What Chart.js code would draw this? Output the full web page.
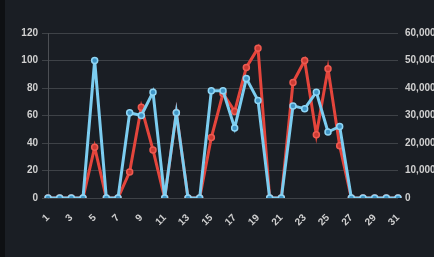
<!DOCTYPE html>
<html>
<head>
<meta charset="utf-8">
<script src="https://cdn.jsdelivr.net/npm/chart.js@4"></script>
<style>
html, body { margin: 0; padding: 0; background: #1a1e24; overflow: hidden; }
body { width: 434px; height: 257px; box-sizing: border-box; border-left: 5px solid #0e1013; }
#wrap { position: absolute; left: 0; top: 0; width: 446px; height: 257px; }
</style>
</head>
<body>
<div id="wrap"><canvas id="chart"></canvas></div>
<script>
const days = ['1','2','3','4','5','6','7','8','9','10','11','12','13','14','15','16','17','18','19','20','21','22','23','24','25','26','27','28','29','30','31'];
const blueVals = [0,0,0,0,100,0,0,62,60,77,0,62,0,0,78,78,51,87,71,0,0,67,65,77,48,52,0,0,0,0,0];
const redVals = [0,0,0,0,18500,0,0,9500,33000,17500,0,31000,0,0,22000,38000,31500,47500,54500,0,0,42000,50000,23000,47000,19000,0,0,0,0,0];
const leftTicks = [0,20,40,60,80,100,120];
const rightTicks = [0,10000,20000,30000,40000,50000,60000];

const tickFont = { family: 'Liberation Sans, Arial, sans-serif', size: 10, weight: 'bold' };

new Chart(document.getElementById('chart').getContext('2d'), {
type: 'line',
data: {
labels: days,
datasets: [{
label: 'A',
data: blueVals,
yAxisID: 'y',
borderColor: '#7ccdf0',
backgroundColor: '#3f94c4',
pointBackgroundColor: '#3f94c4',
pointBorderColor: '#8fd6f5',
borderWidth: 3,
pointRadius: 3,
pointBorderWidth: 1.5,
tension: 0
}, {
label: 'B',
data: redVals,
yAxisID: 'y1',
borderColor: '#e4453c',
backgroundColor: '#c93a33',
pointBackgroundColor: '#c93a33',
pointBorderColor: '#ee5a50',
borderWidth: 3,
pointRadius: 3,
pointBorderWidth: 1.5,
tension: 0
}]
},
options: {
responsive: true,
maintainAspectRatio: false,
animation: false,
layout: { padding: { top: 33, left: 0, right: 0, bottom: 0 } },
plugins: { legend: { display: false }, tooltip: { enabled: false } },
scales: {
x: {
grid: { display: false },
border: { display: false },
afterFit: s => { s.height = 59; },
ticks: {
color: '#d0d0d0',
font: tickFont,
minRotation: 45,
maxRotation: 45,
padding: 6,
autoSkip: false,
callback: function(v, i) { return i % 2 === 0 ? days[i] : ''; }
}
},
y: {
position: 'left',
min: 0,
max: 120,
afterFit: s => { s.width = 48; },
afterBuildTicks: s => { s.ticks = leftTicks.map(v => ({ value: v })); },
grid: { color: 'rgba(255,255,255,0.16)', tickLength: 6 },
border: { color: 'rgba(255,255,255,0.22)' },
ticks: { color: '#d0d0d0', font: tickFont, padding: 4 }
},
y1: {
position: 'right',
min: 0,
max: 60000,
afterFit: s => { s.width = 48; },
afterBuildTicks: s => { s.ticks = rightTicks.map(v => ({ value: v })); },
grid: { drawOnChartArea: false, drawTicks: false },
border: { display: false },
ticks: {
color: '#d0d0d0',
font: tickFont,
padding: 7,
callback: v => v.toLocaleString('en-US')
}
}
}
}
});
</script>
</body>
</html>
